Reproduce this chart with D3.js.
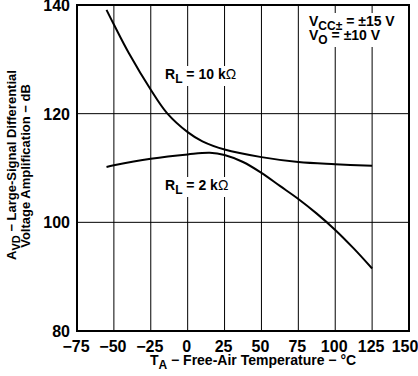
<!DOCTYPE html>
<html>
<head>
<meta charset="utf-8">
<script src="https://cdn.jsdelivr.net/npm/d3@7"></script>
<style>
  body { margin: 0; background: #fff; }
  text { font-family: "Liberation Sans", Arial, sans-serif; font-weight: bold; fill: #000; }
  .tick-label { font-family: "Liberation Sans Narrow", "Liberation Sans", Arial, sans-serif; }
</style>
</head>
<body>
<div id="chart"></div>
<script>
// data
const xTicks = [-75, -50, -25, 0, 25, 50, 75, 100, 125, 150];
const yTicks = [80, 100, 120, 140];

const temps10k = [-55, -50, -40, -25, -14, 0, 10, 25, 50, 75, 100, 125];
const gain10k = [139.1, 136.4, 131.2, 124.4, 120.1, 116.6, 114.9, 113.4, 112.0, 111.1, 110.7, 110.4];

const temps2k = [-55, -50, -25, 0, 15, 25, 37.5, 50, 62.5, 75, 87.5, 100, 112.5, 125];
const gain2k = [110.2, 110.5, 111.7, 112.5, 112.8, 112.4, 111.1, 109.1, 106.7, 104.3, 101.6, 98.6, 95.2, 91.5];

const W = 418, H = 376;
const margin = { top: 5, right: 9, bottom: 45, left: 77 };
const width = W - margin.left - margin.right;
const height = H - margin.top - margin.bottom;

const svg = d3.select("#chart")
  .append("svg")
  .attr("width", W)
  .attr("height", H);

const g = svg.append("g")
  .attr("transform", `translate(${margin.left},${margin.top})`);

const x = d3.scaleLinear().domain([-75, 150]).range([0, width]);
const y = d3.scaleLinear().domain([80, 140]).range([height, 0]);

// grid lines
g.selectAll(".vgrid")
  .data(xTicks.slice(1, -1))
  .enter().append("line")
  .attr("x1", d => x(d)).attr("x2", d => x(d))
  .attr("y1", 0).attr("y2", height)
  .attr("stroke", "#000").attr("stroke-width", 1);

g.selectAll(".hgrid")
  .data(yTicks.slice(1, -1))
  .enter().append("line")
  .attr("x1", 0).attr("x2", width)
  .attr("y1", d => y(d)).attr("y2", d => y(d))
  .attr("stroke", "#000").attr("stroke-width", 1);

// curves
const line = d3.line()
  .x(d => x(d[0]))
  .y(d => y(d[1]))
  .curve(d3.curveCatmullRom.alpha(0.5));

g.append("path")
  .datum(d3.zip(temps10k, gain10k))
  .attr("d", line)
  .attr("fill", "none").attr("stroke", "#000").attr("stroke-width", 2);

g.append("path")
  .datum(d3.zip(temps2k, gain2k))
  .attr("d", line)
  .attr("fill", "none").attr("stroke", "#000").attr("stroke-width", 2);

// labels with white boxes behind them (grid breaks around text)
const boxes = svg.append("g");
const ann = svg.append("g");

function label(px, py, parts) {
  const t = ann.append("text")
    .attr("x", px).attr("y", py)
    .style("font-size", "14px");
  parts.forEach(p => {
    const s = t.append("tspan").text(p.t);
    if (p.sub) s.style("font-size", "12px").attr("dy", 4);
    if (p.up) s.attr("dy", -4);
    if (p.normal) s.style("font-weight", "normal");
  });
  const bb = t.node().getBBox();
  boxes.append("rect")
    .attr("x", bb.x - 1).attr("y", bb.y)
    .attr("width", bb.width + 2).attr("height", bb.height)
    .attr("fill", "#fff");
}

label(165, 79, [{ t: "R" }, { t: "L", sub: true }, { t: " = 10 k", up: true }, { t: "Ω", normal: true }]);
label(165, 190, [{ t: "R" }, { t: "L", sub: true }, { t: " = 2 k", up: true }, { t: "Ω", normal: true }]);
label(309, 26, [{ t: "V" }, { t: "CC±", sub: true }, { t: " = ±15 V", up: true }]);
label(309, 40, [{ t: "V" }, { t: "O", sub: true }, { t: " = ±10 V", up: true }]);

// frame
g.append("rect")
  .attr("x", 0).attr("y", 0)
  .attr("width", width).attr("height", height)
  .attr("fill", "none").attr("stroke", "#000").attr("stroke-width", 2);

// tick labels
g.selectAll(".xlab")
  .data(xTicks)
  .enter().append("text")
  .attr("class", "tick-label")
  .attr("x", d => Math.min(x(d) - 1, width - 4))
  .attr("y", height + 21)
  .attr("text-anchor", "middle")
  .style("font-size", "16px")
  .text(d => d < 0 ? "−" + Math.abs(d) : d);

g.selectAll(".ylab")
  .data(yTicks)
  .enter().append("text")
  .attr("class", "tick-label")
  .attr("x", -7)
  .attr("y", d => y(d) + 6)
  .attr("text-anchor", "end")
  .style("font-size", "16px")
  .text(d => d);

// axis titles
const xt = svg.append("text")
  .attr("x", 253).attr("y", 365)
  .attr("text-anchor", "middle")
  .style("font-size", "14px");
xt.append("tspan").text("T");
xt.append("tspan").text("A").style("font-size", "12px").attr("dy", 4);
xt.append("tspan").text(" − Free-Air Temperature − °C").attr("dy", -4);

const yt1 = svg.append("text")
  .attr("transform", "translate(16,165) rotate(-90)")
  .attr("text-anchor", "middle")
  .style("font-size", "13px");
yt1.append("tspan").text("A");
yt1.append("tspan").text("VD").style("font-size", "11px").attr("dy", 4);
yt1.append("tspan").text(" − Large-Signal Differential").attr("dy", -4);

svg.append("text")
  .attr("transform", "translate(29.5,166) rotate(-90)")
  .attr("text-anchor", "middle")
  .style("font-size", "13px")
  .text("Voltage Amplification − dB");
</script>
</body>
</html>
